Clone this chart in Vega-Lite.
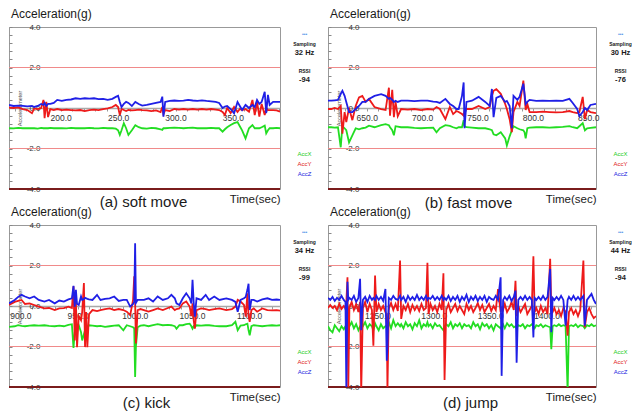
{
"$schema":"https://vega.github.io/schema/vega-lite/v6.json",
"background":"white",
"padding":{"left":7,"top":7,"right":0,"bottom":0},
"bounds":"flush",
"columns":2,
"spacing":{"row":36,"column":48},
"datasets":{
"a":[
{"t":155,"X":-1.0,"Y":0.02,"Z":0.15},{"t":159,"X":-1.01,"Y":0.0,"Z":0.1},{"t":163,"X":-0.98,"Y":0.03,"Z":0.12},{"t":167,"X":-1.0,"Y":-0.05,"Z":0.1},{"t":171,"X":-1.0,"Y":-0.1,"Z":0.08},{"t":175,"X":-0.99,"Y":-0.26,"Z":0.1},{"t":177,"X":-1.0,"Y":-0.02,"Z":0.05},{"t":180,"X":-1.02,"Y":-0.05,"Z":0.1},{"t":183,"X":-0.98,"Y":0.0,"Z":0.2},{"t":185,"X":-1.0,"Y":0.4,"Z":0.15},{"t":186,"X":-1.0,"Y":-0.5,"Z":0.25},{"t":187.5,"X":-1.0,"Y":0.3,"Z":0.1},{"t":189,"X":-1.0,"Y":-0.45,"Z":0.2},{"t":191,"X":-0.98,"Y":-0.05,"Z":0.2},{"t":194,"X":-1.0,"Y":-0.1,"Z":0.25},{"t":197,"X":-0.99,"Y":-0.05,"Z":0.4},{"t":201,"X":-1.0,"Y":-0.1,"Z":0.35},{"t":205,"X":-1.01,"Y":-0.08,"Z":0.4},{"t":209,"X":-0.98,"Y":-0.1,"Z":0.42},{"t":213,"X":-1.0,"Y":-0.12,"Z":0.48},{"t":217,"X":-0.99,"Y":-0.1,"Z":0.45},{"t":221,"X":-1.0,"Y":-0.15,"Z":0.48},{"t":225,"X":-0.98,"Y":-0.1,"Z":0.46},{"t":229,"X":-1.0,"Y":-0.08,"Z":0.48},{"t":233,"X":-1.01,"Y":-0.1,"Z":0.44},{"t":237,"X":-0.98,"Y":-0.05,"Z":0.45},{"t":241,"X":-1.0,"Y":-0.02,"Z":0.4},{"t":245,"X":-1.0,"Y":0.05,"Z":0.45},{"t":248,"X":-1.02,"Y":0.15,"Z":0.55},{"t":250,"X":-1.1,"Y":0.05,"Z":0.6},{"t":251.5,"X":-1.33,"Y":-0.35,"Z":0.3},{"t":253,"X":-1.1,"Y":-0.05,"Z":0.05},{"t":255,"X":-0.75,"Y":-0.1,"Z":0.2},{"t":257,"X":-1.0,"Y":-0.15,"Z":0.3},{"t":259,"X":-1.33,"Y":-0.1,"Z":0.25},{"t":262,"X":-1.1,"Y":-0.12,"Z":0.1},{"t":265,"X":-0.85,"Y":-0.1,"Z":0.3},{"t":268,"X":-0.95,"Y":-0.08,"Z":0.2},{"t":271,"X":-1.0,"Y":-0.1,"Z":0.12},{"t":275,"X":-1.02,"Y":-0.12,"Z":0.15},{"t":279,"X":-0.98,"Y":-0.15,"Z":0.2},{"t":283,"X":-1.0,"Y":-0.12,"Z":0.25},{"t":287,"X":-1.05,"Y":-0.2,"Z":0.3},{"t":288.5,"X":-1.08,"Y":0.05,"Z":0.56},{"t":289.5,"X":-1.0,"Y":-0.3,"Z":-0.43},{"t":291,"X":-1.0,"Y":-0.1,"Z":0.3},{"t":295,"X":-0.98,"Y":-0.15,"Z":0.35},{"t":299,"X":-0.97,"Y":-0.05,"Z":0.37},{"t":303,"X":-0.98,"Y":-0.08,"Z":0.35},{"t":307,"X":-1.0,"Y":-0.05,"Z":0.36},{"t":311,"X":-0.98,"Y":-0.08,"Z":0.4},{"t":315,"X":-0.97,"Y":-0.05,"Z":0.37},{"t":319,"X":-1.0,"Y":-0.08,"Z":0.35},{"t":323,"X":-0.99,"Y":-0.05,"Z":0.38},{"t":327,"X":-1.0,"Y":-0.08,"Z":0.35},{"t":331,"X":-0.98,"Y":-0.05,"Z":0.33},{"t":335,"X":-1.0,"Y":-0.08,"Z":0.3},{"t":338,"X":-1.0,"Y":-0.1,"Z":0.25},{"t":341,"X":-1.17,"Y":-0.2,"Z":0.0},{"t":343,"X":-1.05,"Y":-0.35,"Z":0.07},{"t":345,"X":-0.95,"Y":0.0,"Z":0.1},{"t":348,"X":-0.84,"Y":-0.25,"Z":-0.05},{"t":351,"X":-0.75,"Y":0.05,"Z":-0.26},{"t":354,"X":-0.7,"Y":-0.2,"Z":0.3},{"t":356,"X":-0.9,"Y":-0.05,"Z":0.1},{"t":358,"X":-1.1,"Y":-0.1,"Z":-0.1},{"t":361,"X":-1.5,"Y":-0.05,"Z":0.15},{"t":364,"X":-1.0,"Y":-0.18,"Z":0.0},{"t":367,"X":-0.84,"Y":0.4,"Z":0.15},{"t":369,"X":-1.0,"Y":-0.35,"Z":0.05},{"t":371,"X":-1.0,"Y":0.31,"Z":0.4},{"t":373,"X":-1.0,"Y":-0.43,"Z":0.2},{"t":375,"X":-0.95,"Y":0.2,"Z":0.3},{"t":377.7,"X":-0.87,"Y":-0.35,"Z":0.8},{"t":379,"X":-1.25,"Y":0.0,"Z":-0.26},{"t":380.5,"X":-1.1,"Y":-0.1,"Z":0.65},{"t":382,"X":-1.0,"Y":-0.1,"Z":0.15},{"t":385,"X":-1.0,"Y":-0.1,"Z":0.3},{"t":388,"X":-0.98,"Y":-0.12,"Z":0.3},{"t":391,"X":-1.0,"Y":-0.18,"Z":0.3}
],
"b":[
{"t":615,"X":-0.95,"Y":-0.05,"Z":0.36},{"t":618,"X":-0.95,"Y":-0.05,"Z":0.36},{"t":621,"X":-0.97,"Y":0.0,"Z":0.38},{"t":624,"X":-0.95,"Y":-0.05,"Z":0.4},{"t":626.5,"X":-1.94,"Y":0.1,"Z":0.7},{"t":628,"X":-0.9,"Y":-1.27,"Z":0.85},{"t":630,"X":-1.0,"Y":-0.2,"Z":0.6},{"t":631.5,"X":-1.1,"Y":-0.7,"Z":0.3},{"t":634,"X":-1.7,"Y":0.0,"Z":-0.2},{"t":637,"X":-1.35,"Y":-0.6,"Z":-0.2},{"t":640,"X":-1.0,"Y":0.1,"Z":-0.05},{"t":643,"X":-1.05,"Y":0.52,"Z":0.1},{"t":646,"X":-1.0,"Y":0.6,"Z":0.3},{"t":649,"X":-0.97,"Y":0.3,"Z":0.3},{"t":652,"X":-0.87,"Y":0.45,"Z":0.44},{"t":657,"X":-0.95,"Y":0.05,"Z":0.6},{"t":663,"X":-0.85,"Y":-0.05,"Z":0.68},{"t":667,"X":-0.8,"Y":-0.1,"Z":0.6},{"t":670,"X":-0.85,"Y":1.0,"Z":0.45},{"t":671,"X":-0.95,"Y":-0.38,"Z":0.5},{"t":673,"X":-1.1,"Y":0.9,"Z":0.4},{"t":674.5,"X":-1.35,"Y":-0.45,"Z":0.3},{"t":676,"X":-0.9,"Y":0.3,"Z":0.36},{"t":678,"X":-0.92,"Y":-0.4,"Z":0.3},{"t":681,"X":-0.95,"Y":-0.05,"Z":0.36},{"t":687,"X":-0.95,"Y":-0.08,"Z":0.36},{"t":693,"X":-0.98,"Y":-0.05,"Z":0.34},{"t":699,"X":-1.0,"Y":-0.1,"Z":0.36},{"t":705,"X":-0.98,"Y":-0.05,"Z":0.36},{"t":710,"X":-0.97,"Y":-0.08,"Z":0.32},{"t":713,"X":-1.2,"Y":0.05,"Z":0.3},{"t":716,"X":-1.0,"Y":-0.05,"Z":0.25},{"t":721,"X":-0.85,"Y":-0.55,"Z":0.45},{"t":725,"X":-0.88,"Y":0.05,"Z":0.2},{"t":728,"X":-0.95,"Y":-0.3,"Z":0.1},{"t":731,"X":-1.0,"Y":-0.15,"Z":-0.05},{"t":733,"X":-0.95,"Y":-0.2,"Z":-0.05},{"t":736,"X":-0.95,"Y":-0.3,"Z":0.6},{"t":737.5,"X":-0.6,"Y":-0.38,"Z":1.26},{"t":738.3,"X":-0.9,"Y":-0.1,"Z":-1.0},{"t":740,"X":-0.95,"Y":-0.05,"Z":0.3},{"t":745,"X":-0.97,"Y":-0.05,"Z":0.36},{"t":751,"X":-1.0,"Y":0.1,"Z":0.55},{"t":757,"X":-1.0,"Y":-0.05,"Z":0.3},{"t":761,"X":-1.05,"Y":0.05,"Z":0.1},{"t":763,"X":-1.1,"Y":0.6,"Z":0.94},{"t":764.5,"X":-1.3,"Y":0.85,"Z":-0.45},{"t":767,"X":-1.35,"Y":0.93,"Z":0.5},{"t":771,"X":-1.2,"Y":0.7,"Z":0.6},{"t":775,"X":-1.5,"Y":0.2,"Z":0.3},{"t":776.5,"X":-1.85,"Y":-0.05,"Z":0.35},{"t":779,"X":-1.4,"Y":-0.55,"Z":0.1},{"t":781,"X":-1.1,"Y":-1.2,"Z":-1.0},{"t":782.5,"X":-0.9,"Y":-0.2,"Z":0.6},{"t":786,"X":-1.0,"Y":0.3,"Z":0.4},{"t":788,"X":-1.05,"Y":0.1,"Z":0.55},{"t":791.4,"X":-1.1,"Y":1.35,"Z":1.2},{"t":792.5,"X":-1.2,"Y":0.6,"Z":0.7},{"t":793.5,"X":-1.5,"Y":-0.1,"Z":0.2},{"t":795,"X":-1.0,"Y":0.2,"Z":0.3},{"t":797,"X":-0.97,"Y":-0.2,"Z":0.4},{"t":803,"X":-0.95,"Y":-0.2,"Z":0.35},{"t":809,"X":-0.95,"Y":-0.18,"Z":0.36},{"t":815,"X":-0.97,"Y":-0.2,"Z":0.35},{"t":821,"X":-0.95,"Y":-0.22,"Z":0.36},{"t":827,"X":-0.93,"Y":-0.2,"Z":0.35},{"t":833,"X":-0.9,"Y":-0.15,"Z":0.45},{"t":836,"X":-0.95,"Y":-0.2,"Z":0.25},{"t":840,"X":-1.0,"Y":-0.25,"Z":-0.05},{"t":842,"X":-0.9,"Y":-0.2,"Z":-0.4},{"t":845,"X":-0.75,"Y":0.55,"Z":-0.2},{"t":847,"X":-1.1,"Y":-0.55,"Z":0.0},{"t":849,"X":-1.0,"Y":-0.1,"Z":-0.1},{"t":852,"X":-0.98,"Y":-0.2,"Z":0.15},{"t":857,"X":-0.95,"Y":-0.25,"Z":0.2}
],
"c":[
{"t":890,"X":-1.03,"Y":0.05,"Z":0.13},{"t":895,"X":-1.0,"Y":0.2,"Z":0.3},{"t":898,"X":-0.95,"Y":0.25,"Z":0.45},{"t":901,"X":-0.98,"Y":0.3,"Z":0.55},{"t":904,"X":-1.0,"Y":0.1,"Z":0.47},{"t":908,"X":-0.97,"Y":0.13,"Z":0.38},{"t":912,"X":-0.95,"Y":0.05,"Z":0.47},{"t":916,"X":-0.97,"Y":-0.03,"Z":0.3},{"t":921,"X":-0.95,"Y":-0.12,"Z":0.22},{"t":925,"X":-0.98,"Y":-0.1,"Z":0.3},{"t":930,"X":-1.0,"Y":-0.2,"Z":0.13},{"t":934,"X":-0.97,"Y":-0.12,"Z":0.27},{"t":938,"X":-1.0,"Y":-0.1,"Z":0.22},{"t":942,"X":-0.93,"Y":-0.03,"Z":0.33},{"t":945,"X":-0.9,"Y":-0.1,"Z":0.38},{"t":946.4,"X":-2.07,"Y":0.97,"Z":1.0},{"t":947.5,"X":-1.3,"Y":-1.7,"Z":-0.03},{"t":948.5,"X":-1.0,"Y":0.3,"Z":0.8},{"t":949.5,"X":-1.1,"Y":-2.03,"Z":0.1},{"t":951,"X":-0.95,"Y":-0.5,"Z":0.05},{"t":953,"X":-1.3,"Y":-0.7,"Z":0.47},{"t":954,"X":-1.7,"Y":-0.3,"Z":0.3},{"t":955.5,"X":-1.4,"Y":1.13,"Z":0.35},{"t":956.5,"X":-1.2,"Y":-2.03,"Z":0.4},{"t":957.5,"X":-1.1,"Y":-0.3,"Z":0.38},{"t":958.5,"X":-1.05,"Y":-2.03,"Z":0.35},{"t":960,"X":-0.95,"Y":-0.4,"Z":0.33},{"t":963,"X":-0.97,"Y":-0.2,"Z":0.3},{"t":967,"X":-1.0,"Y":-0.25,"Z":0.55},{"t":970,"X":-0.98,"Y":-0.2,"Z":0.3},{"t":974,"X":-1.03,"Y":-0.15,"Z":0.35},{"t":978,"X":-1.0,"Y":-0.12,"Z":0.38},{"t":982,"X":-0.97,"Y":-0.2,"Z":0.47},{"t":986,"X":-0.95,"Y":-0.15,"Z":0.25},{"t":990,"X":-1.2,"Y":-0.2,"Z":0.3},{"t":993,"X":-0.95,"Y":-0.28,"Z":0.3},{"t":996,"X":-1.0,"Y":-0.45,"Z":-0.03},{"t":998.5,"X":-1.05,"Y":0.3,"Z":0.1},{"t":999.5,"X":-1.1,"Y":1.47,"Z":0.2},{"t":1000.3,"X":-3.5,"Y":0.2,"Z":3.1},{"t":1001,"X":-2.0,"Y":-1.85,"Z":0.15},{"t":1002.5,"X":-1.05,"Y":-0.2,"Z":0.3},{"t":1005,"X":-0.97,"Y":-0.15,"Z":0.3},{"t":1008,"X":-0.95,"Y":-0.2,"Z":0.3},{"t":1012,"X":-1.0,"Y":-0.28,"Z":0.38},{"t":1016,"X":-0.95,"Y":-0.2,"Z":0.22},{"t":1020,"X":-0.9,"Y":-0.12,"Z":0.47},{"t":1024.5,"X":-0.95,"Y":-0.2,"Z":0.3},{"t":1029,"X":-0.93,"Y":-0.1,"Z":0.38},{"t":1032,"X":-0.95,"Y":-0.03,"Z":0.55},{"t":1035,"X":-1.0,"Y":-0.2,"Z":0.38},{"t":1036.5,"X":-1.12,"Y":-0.15,"Z":0.13},{"t":1039,"X":-0.95,"Y":-0.12,"Z":0.05},{"t":1042,"X":-0.95,"Y":0.13,"Z":0.38},{"t":1045,"X":-0.9,"Y":0.22,"Z":0.63},{"t":1048,"X":-0.87,"Y":-0.03,"Z":0.38},{"t":1049.5,"X":-1.0,"Y":-0.5,"Z":0.13},{"t":1050.5,"X":-1.12,"Y":0.13,"Z":1.3},{"t":1051.5,"X":-1.0,"Y":-0.7,"Z":0.2},{"t":1052.5,"X":-1.05,"Y":-1.12,"Z":-0.53},{"t":1054,"X":-0.95,"Y":-0.2,"Z":0.38},{"t":1058,"X":-0.97,"Y":-0.12,"Z":0.3},{"t":1062,"X":-0.95,"Y":-0.15,"Z":0.55},{"t":1065,"X":-0.95,"Y":-0.2,"Z":0.3},{"t":1069.5,"X":-0.98,"Y":-0.15,"Z":0.47},{"t":1074,"X":-1.0,"Y":-0.12,"Z":0.3},{"t":1080,"X":-1.0,"Y":-0.2,"Z":0.38},{"t":1085,"X":-0.95,"Y":-0.15,"Z":0.3},{"t":1088,"X":-0.78,"Y":-0.03,"Z":0.2},{"t":1090,"X":-1.2,"Y":0.3,"Z":-0.28},{"t":1092.5,"X":-0.97,"Y":0.22,"Z":0.3},{"t":1095.5,"X":-0.95,"Y":0.05,"Z":0.38},{"t":1097,"X":-0.9,"Y":-0.53,"Z":0.45},{"t":1098.5,"X":-0.87,"Y":0.63,"Z":0.8},{"t":1099.5,"X":-1.2,"Y":-0.5,"Z":1.1},{"t":1100.5,"X":-1.45,"Y":-0.78,"Z":-0.2},{"t":1102,"X":-1.0,"Y":-0.2,"Z":0.3},{"t":1104,"X":-0.95,"Y":-0.12,"Z":0.3},{"t":1107,"X":-0.97,"Y":-0.28,"Z":0.22},{"t":1111.5,"X":-1.0,"Y":-0.12,"Z":0.33},{"t":1116,"X":-0.97,"Y":-0.2,"Z":0.38},{"t":1120,"X":-0.95,"Y":-0.22,"Z":0.3},{"t":1124,"X":-0.97,"Y":-0.2,"Z":0.32},{"t":1127,"X":-0.95,"Y":-0.23,"Z":0.3}
],
"d":[
{"t":1206,"X":-1.0,"Y":-0.1,"Z":0.4},{"t":1208,"X":-1.2,"Y":0.05,"Z":0.3},{"t":1210,"X":-1.3,"Y":-0.1,"Z":0.45},{"t":1212,"X":-0.95,"Y":0.0,"Z":0.25},{"t":1214,"X":-1.1,"Y":-0.2,"Z":0.4},{"t":1216,"X":-1.25,"Y":0.1,"Z":0.3},{"t":1218,"X":-1.0,"Y":-0.15,"Z":0.5},{"t":1220,"X":-1.15,"Y":0.0,"Z":0.3},{"t":1221.5,"X":-1.0,"Y":-0.1,"Z":0.2},{"t":1222.3,"X":-1.1,"Y":0.2,"Z":-4.2},{"t":1223.3,"X":-0.9,"Y":1.42,"Z":1.2},{"t":1224,"X":-1.0,"Y":-4.2,"Z":0.3},{"t":1225,"X":-1.0,"Y":-0.1,"Z":0.4},{"t":1227,"X":-0.8,"Y":0.2,"Z":0.3},{"t":1229,"X":-1.1,"Y":-0.2,"Z":0.5},{"t":1231,"X":-0.9,"Y":0.1,"Z":0.2},{"t":1233,"X":-1.2,"Y":-0.3,"Z":0.4},{"t":1234.5,"X":-1.0,"Y":0.2,"Z":1.34},{"t":1235.5,"X":-0.95,"Y":-4.2,"Z":-1.2},{"t":1237,"X":-1.0,"Y":-0.1,"Z":0.3},{"t":1239,"X":-0.8,"Y":0.2,"Z":0.45},{"t":1241,"X":-1.1,"Y":-0.3,"Z":0.2},{"t":1243,"X":-0.9,"Y":0.1,"Z":0.5},{"t":1245,"X":-1.0,"Y":-0.2,"Z":0.3},{"t":1246.3,"X":-1.2,"Y":-1.96,"Z":0.4},{"t":1247.8,"X":-0.85,"Y":1.5,"Z":0.3},{"t":1249,"X":-1.0,"Y":-0.3,"Z":0.5},{"t":1251,"X":-1.2,"Y":0.1,"Z":0.3},{"t":1253,"X":-0.9,"Y":-0.2,"Z":0.45},{"t":1255,"X":-1.1,"Y":0.0,"Z":0.25},{"t":1257,"X":-1.0,"Y":-0.3,"Z":0.84},{"t":1258.2,"X":-0.95,"Y":-0.5,"Z":-2.7},{"t":1258.8,"X":-1.0,"Y":-4.2,"Z":-2.0},{"t":1260,"X":-0.8,"Y":-0.1,"Z":0.4},{"t":1262,"X":-1.1,"Y":0.15,"Z":0.3},{"t":1264,"X":-0.7,"Y":-0.2,"Z":0.5},{"t":1266,"X":-1.0,"Y":0.1,"Z":0.35},{"t":1268,"X":-0.85,"Y":-0.25,"Z":0.3},{"t":1270,"X":-1.0,"Y":2.24,"Z":0.5},{"t":1271,"X":-0.9,"Y":-0.64,"Z":0.3},{"t":1273,"X":-1.1,"Y":0.0,"Z":0.45},{"t":1275,"X":-0.8,"Y":-0.2,"Z":0.2},{"t":1277,"X":-1.0,"Y":0.1,"Z":0.5},{"t":1279,"X":-0.9,"Y":-0.3,"Z":0.3},{"t":1281,"X":-1.15,"Y":0.05,"Z":0.45},{"t":1283,"X":-0.85,"Y":-0.2,"Z":0.3},{"t":1285,"X":-1.0,"Y":0.0,"Z":0.55},{"t":1287,"X":-0.7,"Y":-0.25,"Z":0.3},{"t":1289,"X":-1.1,"Y":0.1,"Z":0.45},{"t":1291,"X":-0.9,"Y":-0.2,"Z":0.3},{"t":1293,"X":-1.0,"Y":-0.1,"Z":0.5},{"t":1294.3,"X":-0.8,"Y":2.13,"Z":0.3},{"t":1295.3,"X":-1.0,"Y":-0.4,"Z":0.4},{"t":1297,"X":-0.9,"Y":0.1,"Z":0.35},{"t":1299,"X":-1.1,"Y":-0.2,"Z":0.5},{"t":1301,"X":-0.85,"Y":0.0,"Z":0.3},{"t":1303,"X":-1.0,"Y":-0.3,"Z":0.45},{"t":1305,"X":-0.95,"Y":0.1,"Z":0.3},{"t":1307,"X":-1.1,"Y":-0.2,"Z":0.5},{"t":1308.5,"X":-1.2,"Y":1.62,"Z":0.3},{"t":1309.5,"X":-1.0,"Y":-3.65,"Z":0.4},{"t":1311,"X":-0.9,"Y":-0.2,"Z":0.3},{"t":1313,"X":-1.0,"Y":0.1,"Z":0.5},{"t":1315,"X":-0.8,"Y":-0.3,"Z":0.25},{"t":1317,"X":-1.1,"Y":-0.1,"Z":0.45},{"t":1319,"X":-0.9,"Y":0.1,"Z":0.3},{"t":1321,"X":-1.0,"Y":-0.25,"Z":0.5},{"t":1323,"X":-0.85,"Y":0.0,"Z":0.2},{"t":1325,"X":-1.1,"Y":-0.2,"Z":0.45},{"t":1327,"X":-0.9,"Y":-0.4,"Z":0.3},{"t":1329,"X":-1.0,"Y":0.1,"Z":0.55},{"t":1331,"X":-0.95,"Y":-0.2,"Z":0.2},{"t":1333,"X":-1.1,"Y":0.0,"Z":0.45},{"t":1335,"X":-0.8,"Y":-0.3,"Z":0.3},{"t":1337,"X":-1.0,"Y":-0.1,"Z":0.5},{"t":1339,"X":-0.9,"Y":0.15,"Z":0.25},{"t":1341,"X":-1.15,"Y":-0.2,"Z":0.45},{"t":1343,"X":-0.85,"Y":0.05,"Z":0.3},{"t":1345,"X":-1.0,"Y":-0.3,"Z":0.5},{"t":1347,"X":-0.9,"Y":-0.1,"Z":0.2},{"t":1349,"X":-1.1,"Y":0.1,"Z":0.45},{"t":1351,"X":-0.95,"Y":-0.25,"Z":0.35},{"t":1353,"X":-1.2,"Y":0.0,"Z":0.3},{"t":1355,"X":-0.9,"Y":-0.2,"Z":0.5},{"t":1357,"X":-1.0,"Y":0.84,"Z":0.3},{"t":1359.3,"X":-1.1,"Y":-0.3,"Z":1.42},{"t":1360.2,"X":-1.0,"Y":-0.1,"Z":-3.45},{"t":1361.5,"X":-0.9,"Y":-0.2,"Z":0.3},{"t":1363,"X":-1.1,"Y":0.1,"Z":0.45},{"t":1365,"X":-0.85,"Y":-0.3,"Z":0.3},{"t":1367,"X":-1.0,"Y":-0.1,"Z":0.5},{"t":1369,"X":-0.9,"Y":0.2,"Z":0.25},{"t":1371,"X":-1.05,"Y":-0.2,"Z":0.45},{"t":1372.5,"X":-1.0,"Y":1.25,"Z":0.76},{"t":1373.5,"X":-1.1,"Y":-0.5,"Z":-2.8},{"t":1375,"X":-0.95,"Y":0.0,"Z":0.3},{"t":1377,"X":-1.0,"Y":-0.3,"Z":0.45},{"t":1379,"X":-0.9,"Y":-0.1,"Z":0.3},{"t":1381,"X":-1.1,"Y":0.1,"Z":0.5},{"t":1383,"X":-0.95,"Y":-0.4,"Z":0.3},{"t":1385,"X":-1.0,"Y":-0.2,"Z":0.45},{"t":1387,"X":-0.9,"Y":0.0,"Z":0.3},{"t":1388.4,"X":-1.0,"Y":2.46,"Z":-1.55},{"t":1389.5,"X":-1.1,"Y":-0.3,"Z":0.4},{"t":1391,"X":-0.95,"Y":-0.1,"Z":0.3},{"t":1393,"X":-1.0,"Y":-0.4,"Z":0.45},{"t":1395,"X":-0.9,"Y":0.0,"Z":0.3},{"t":1397,"X":-1.05,"Y":-0.3,"Z":0.5},{"t":1399,"X":-0.95,"Y":-0.1,"Z":0.3},{"t":1401,"X":-1.0,"Y":-0.4,"Z":0.45},{"t":1403.3,"X":-1.05,"Y":2.33,"Z":1.83},{"t":1404.3,"X":-2.13,"Y":-0.2,"Z":-1.3},{"t":1405.5,"X":-1.0,"Y":-0.3,"Z":0.4},{"t":1407,"X":-0.95,"Y":-0.1,"Z":0.3},{"t":1409,"X":-1.0,"Y":-0.4,"Z":0.45},{"t":1411,"X":-0.9,"Y":-0.2,"Z":0.3},{"t":1413,"X":-1.0,"Y":-0.5,"Z":0.5},{"t":1415,"X":-0.95,"Y":-0.1,"Z":0.3},{"t":1417,"X":-1.0,"Y":-0.3,"Z":-0.97},{"t":1418.8,"X":-4.2,"Y":-1.47,"Z":0.3},{"t":1420,"X":-1.0,"Y":-0.3,"Z":0.45},{"t":1422,"X":-0.95,"Y":-0.1,"Z":0.3},{"t":1424,"X":-1.0,"Y":-0.4,"Z":0.5},{"t":1426,"X":-0.9,"Y":-0.2,"Z":0.3},{"t":1428,"X":-1.05,"Y":-0.5,"Z":0.45},{"t":1430,"X":-0.95,"Y":-0.2,"Z":0.3},{"t":1432.8,"X":-1.0,"Y":2.24,"Z":0.5},{"t":1434,"X":-1.1,"Y":-1.05,"Z":-0.97},{"t":1436,"X":-0.95,"Y":-0.3,"Z":0.3},{"t":1438,"X":-1.0,"Y":-0.1,"Z":0.45},{"t":1440,"X":-0.9,"Y":-0.4,"Z":0.6},{"t":1442,"X":-1.0,"Y":-0.6,"Z":0.3},{"t":1444,"X":-0.95,"Y":-0.5,"Z":0.1}
]
},
"concat":[
{"width":271,"height":162,
"title":{"text":"Acceleration(g)","anchor":"start","frame":"group","dx":2,"offset":2},
"layer":[
{"data":{"values":[{"g":2},{"g":-2},{"g":-4}]},"mark":{"type":"rule"},
"encoding":{
"y":{"field":"g","type":"quantitative","scale":{"domain":[-4,4],"nice":false,"zero":false},
"axis":{"orient":"right","values":[3.7,3.17,2.75,1.85,1.4,-2.25,-2.75,-3.25],
"labelExpr":"datum.value === 3.7 ? '•••' : datum.value === 3.17 ? 'Sampling' : datum.value === 2.75 ? '32 Hz' : datum.value === 1.85 ? 'RSSI' : datum.value === 1.4 ? '-94' : datum.value === -2.25 ? 'AccX' : datum.value === -2.75 ? 'AccY' : 'AccZ'",
"ticks":false,"tickSize":0,"domain":false,"grid":false,"labelAlign":"center","labelBaseline":"middle","labelPadding":24,"labelOverlap":false,"labelBound":false,
"labelFontSize":{"condition":[{"test":"datum.value === 2.75 || datum.value === 1.4","value":7.5},{"test":"datum.value < 0","value":6}],"value":5},
"labelColor":{"condition":[{"test":"datum.value === 3.7","value":"#4f8fe8"},{"test":"datum.value === -2.25","value":"#22cc22"},{"test":"datum.value === -2.75","value":"#e02020"},{"test":"datum.value === -3.25","value":"#2424e0"}],"value":"#1a1a1a"},
"labelFontWeight":{"condition":{"test":"datum.value > 0 && datum.value < 3.5","value":"bold"},"value":"normal"},
"title":"(a) soft move","titleAngle":0,"titleX":-137,"titleY":174,"titleAlign":"center","titleBaseline":"middle","titleFontSize":15,"titleFontWeight":"normal","titleColor":"#1a1a1a"}},
"color":{"condition":{"test":"datum.g === -4","value":"#7a1c1c"},"value":"#f08a8a"},
"strokeWidth":{"condition":{"test":"datum.g === -4","value":2.2},"value":1.2}}},
{"data":{"name":"a"},"transform":[{"fold":["X","Y","Z"],"as":["axis","g"]}],
"mark":{"type":"line","strokeWidth":1.8,"clip":true},
"encoding":{
"x":{"field":"t","type":"quantitative","scale":{"domain":[155,391],"nice":false,"zero":false},
"axis":{"orient":"bottom","offset":-81,"values":[160,170,180,190,200,210,220,230,240,250,260,270,280,290,300,310,320,330,340,350,360,370,380,390],
"labelExpr":"datum.value % 50 === 0 ? format(datum.value, '.1f') : ''","tickSize":3,"tickColor":"#999999","domainColor":"#a8a8a8","domainWidth":1.6,"labelFontSize":8.5,"labelColor":"#333333","labelPadding":2,"labelOverlap":false,"labelFlush":false,"labelBound":false,"grid":false,
"title":"Time(sec)","titleX":271,"titleY":91,"titleAlign":"right","titleBaseline":"middle","titleFontSize":11.5,"titleFontWeight":"normal","titleColor":"#1a1a1a"}},
"y":{"field":"g","type":"quantitative",
"axis":{"orient":"left","values":[-4,-3.6,-3.2,-2.8,-2.4,-2,-1.6,-1.2,-0.8,-0.4,0,0.4,0.8,1.2,1.6,2,2.4,2.8,3.2,3.6,4],
"labelExpr":"abs(datum.value) % 2 === 0 ? (datum.value < 0 ? '-' : '') + format(abs(datum.value), '.1f') : ''",
"labelAlign":"right","labelBaseline":"middle","labelPadding":-28,"tickSize":-3,"tickColor":"#888888","domain":false,"grid":false,"labelFontSize":8,"labelColor":"#333333","labelOverlap":false,"labelBound":false,
"title":"Accelerometer","titleAngle":-90,"titleX":10,"titleY":81,"titleAlign":"center","titleBaseline":"middle","titleFontSize":5.5,"titleFontWeight":"normal","titleColor":"#555555"}},
"color":{"field":"axis","type":"nominal","scale":{"domain":["X","Y","Z"],"range":["#22dd22","#ee1a1a","#1f1fe6"]},"legend":null}}}
],
"resolve":{"axis":{"y":"independent"}}},
{"width":268,"height":162,
"title":{"text":"Acceleration(g)","anchor":"start","frame":"group","dx":2,"offset":2},
"layer":[
{"data":{"values":[{"g":2},{"g":-2},{"g":-4}]},"mark":{"type":"rule"},
"encoding":{
"y":{"field":"g","type":"quantitative","scale":{"domain":[-4,4],"nice":false,"zero":false},
"axis":{"orient":"right","values":[3.7,3.17,2.75,1.85,1.4,-2.25,-2.75,-3.25],
"labelExpr":"datum.value === 3.7 ? '•••' : datum.value === 3.17 ? 'Sampling' : datum.value === 2.75 ? '30 Hz' : datum.value === 1.85 ? 'RSSI' : datum.value === 1.4 ? '-76' : datum.value === -2.25 ? 'AccX' : datum.value === -2.75 ? 'AccY' : 'AccZ'",
"ticks":false,"tickSize":0,"domain":false,"grid":false,"labelAlign":"center","labelBaseline":"middle","labelPadding":24,"labelOverlap":false,"labelBound":false,
"labelFontSize":{"condition":[{"test":"datum.value === 2.75 || datum.value === 1.4","value":7.5},{"test":"datum.value < 0","value":6}],"value":5},
"labelColor":{"condition":[{"test":"datum.value === 3.7","value":"#4f8fe8"},{"test":"datum.value === -2.25","value":"#22cc22"},{"test":"datum.value === -2.75","value":"#e02020"},{"test":"datum.value === -3.25","value":"#2424e0"}],"value":"#1a1a1a"},
"labelFontWeight":{"condition":{"test":"datum.value > 0 && datum.value < 3.5","value":"bold"},"value":"normal"},
"title":"(b) fast move","titleAngle":0,"titleX":-128,"titleY":175,"titleAlign":"center","titleBaseline":"middle","titleFontSize":15,"titleFontWeight":"normal","titleColor":"#1a1a1a"}},
"color":{"condition":{"test":"datum.g === -4","value":"#7a1c1c"},"value":"#f08a8a"},
"strokeWidth":{"condition":{"test":"datum.g === -4","value":2.2},"value":1.2}}},
{"data":{"name":"b"},"transform":[{"fold":["X","Y","Z"],"as":["axis","g"]}],
"mark":{"type":"line","strokeWidth":1.8,"clip":true},
"encoding":{
"x":{"field":"t","type":"quantitative","scale":{"domain":[615,857],"nice":false,"zero":false},
"axis":{"orient":"bottom","offset":-81,"values":[620,630,640,650,660,670,680,690,700,710,720,730,740,750,760,770,780,790,800,810,820,830,840,850],
"labelExpr":"datum.value % 50 === 0 ? format(datum.value, '.1f') : ''","tickSize":3,"tickColor":"#999999","domainColor":"#a8a8a8","domainWidth":1.6,"labelFontSize":8.5,"labelColor":"#333333","labelPadding":2,"labelOverlap":false,"labelFlush":false,"labelBound":false,"grid":false,
"title":"Time(sec)","titleX":268,"titleY":91,"titleAlign":"right","titleBaseline":"middle","titleFontSize":11.5,"titleFontWeight":"normal","titleColor":"#1a1a1a"}},
"y":{"field":"g","type":"quantitative",
"axis":{"orient":"left","values":[-4,-3.6,-3.2,-2.8,-2.4,-2,-1.6,-1.2,-0.8,-0.4,0,0.4,0.8,1.2,1.6,2,2.4,2.8,3.2,3.6,4],
"labelExpr":"abs(datum.value) % 2 === 0 ? (datum.value < 0 ? '-' : '') + format(abs(datum.value), '.1f') : ''",
"labelAlign":"right","labelBaseline":"middle","labelPadding":-28,"tickSize":-3,"tickColor":"#888888","domain":false,"grid":false,"labelFontSize":8,"labelColor":"#333333","labelOverlap":false,"labelBound":false,
"title":"Accelerometer","titleAngle":-90,"titleX":10,"titleY":81,"titleAlign":"center","titleBaseline":"middle","titleFontSize":5.5,"titleFontWeight":"normal","titleColor":"#555555"}},
"color":{"field":"axis","type":"nominal","scale":{"domain":["X","Y","Z"],"range":["#22dd22","#ee1a1a","#1f1fe6"]},"legend":null}}}
],
"resolve":{"axis":{"y":"independent"}}},
{"width":271,"height":162,
"title":{"text":"Acceleration(g)","anchor":"start","frame":"group","dx":2,"offset":2},
"layer":[
{"data":{"values":[{"g":2},{"g":-2},{"g":-4}]},"mark":{"type":"rule"},
"encoding":{
"y":{"field":"g","type":"quantitative","scale":{"domain":[-4,4],"nice":false,"zero":false},
"axis":{"orient":"right","values":[3.7,3.17,2.75,1.85,1.4,-2.25,-2.75,-3.25],
"labelExpr":"datum.value === 3.7 ? '•••' : datum.value === 3.17 ? 'Sampling' : datum.value === 2.75 ? '34 Hz' : datum.value === 1.85 ? 'RSSI' : datum.value === 1.4 ? '-99' : datum.value === -2.25 ? 'AccX' : datum.value === -2.75 ? 'AccY' : 'AccZ'",
"ticks":false,"tickSize":0,"domain":false,"grid":false,"labelAlign":"center","labelBaseline":"middle","labelPadding":24,"labelOverlap":false,"labelBound":false,
"labelFontSize":{"condition":[{"test":"datum.value === 2.75 || datum.value === 1.4","value":7.5},{"test":"datum.value < 0","value":6}],"value":5},
"labelColor":{"condition":[{"test":"datum.value === 3.7","value":"#4f8fe8"},{"test":"datum.value === -2.25","value":"#22cc22"},{"test":"datum.value === -2.75","value":"#e02020"},{"test":"datum.value === -3.25","value":"#2424e0"}],"value":"#1a1a1a"},
"labelFontWeight":{"condition":{"test":"datum.value > 0 && datum.value < 3.5","value":"bold"},"value":"normal"},
"title":"(c) kick","titleAngle":0,"titleX":-134,"titleY":177,"titleAlign":"center","titleBaseline":"middle","titleFontSize":15,"titleFontWeight":"normal","titleColor":"#1a1a1a"}},
"color":{"condition":{"test":"datum.g === -4","value":"#7a1c1c"},"value":"#f08a8a"},
"strokeWidth":{"condition":{"test":"datum.g === -4","value":2.2},"value":1.2}}},
{"data":{"name":"c"},"transform":[{"fold":["X","Y","Z"],"as":["axis","g"]}],
"mark":{"type":"line","strokeWidth":1.8,"clip":true},
"encoding":{
"x":{"field":"t","type":"quantitative","scale":{"domain":[890,1127],"nice":false,"zero":false},
"axis":{"orient":"bottom","offset":-81,"values":[890,900,910,920,930,940,950,960,970,980,990,1000,1010,1020,1030,1040,1050,1060,1070,1080,1090,1100,1110,1120],
"labelExpr":"datum.value % 50 === 0 ? format(datum.value, '.1f') : ''","tickSize":3,"tickColor":"#999999","domainColor":"#a8a8a8","domainWidth":1.6,"labelFontSize":8.5,"labelColor":"#333333","labelPadding":2,"labelOverlap":false,"labelFlush":false,"labelBound":false,"grid":false,
"title":"Time(sec)","titleX":271,"titleY":91,"titleAlign":"right","titleBaseline":"middle","titleFontSize":11.5,"titleFontWeight":"normal","titleColor":"#1a1a1a"}},
"y":{"field":"g","type":"quantitative",
"axis":{"orient":"left","values":[-4,-3.6,-3.2,-2.8,-2.4,-2,-1.6,-1.2,-0.8,-0.4,0,0.4,0.8,1.2,1.6,2,2.4,2.8,3.2,3.6,4],
"labelExpr":"abs(datum.value) % 2 === 0 ? (datum.value < 0 ? '-' : '') + format(abs(datum.value), '.1f') : ''",
"labelAlign":"right","labelBaseline":"middle","labelPadding":-28,"tickSize":-3,"tickColor":"#888888","domain":false,"grid":false,"labelFontSize":8,"labelColor":"#333333","labelOverlap":false,"labelBound":false,
"title":"Accelerometer","titleAngle":-90,"titleX":10,"titleY":81,"titleAlign":"center","titleBaseline":"middle","titleFontSize":5.5,"titleFontWeight":"normal","titleColor":"#555555"}},
"color":{"field":"axis","type":"nominal","scale":{"domain":["X","Y","Z"],"range":["#22dd22","#ee1a1a","#1f1fe6"]},"legend":null}}}
],
"resolve":{"axis":{"y":"independent"}}},
{"width":268,"height":162,
"title":{"text":"Acceleration(g)","anchor":"start","frame":"group","dx":2,"offset":2},
"layer":[
{"data":{"values":[{"g":2},{"g":-2},{"g":-4}]},"mark":{"type":"rule"},
"encoding":{
"y":{"field":"g","type":"quantitative","scale":{"domain":[-4,4],"nice":false,"zero":false},
"axis":{"orient":"right","values":[3.7,3.17,2.75,1.85,1.4,-2.25,-2.75,-3.25],
"labelExpr":"datum.value === 3.7 ? '•••' : datum.value === 3.17 ? 'Sampling' : datum.value === 2.75 ? '44 Hz' : datum.value === 1.85 ? 'RSSI' : datum.value === 1.4 ? '-94' : datum.value === -2.25 ? 'AccX' : datum.value === -2.75 ? 'AccY' : 'AccZ'",
"ticks":false,"tickSize":0,"domain":false,"grid":false,"labelAlign":"center","labelBaseline":"middle","labelPadding":24,"labelOverlap":false,"labelBound":false,
"labelFontSize":{"condition":[{"test":"datum.value === 2.75 || datum.value === 1.4","value":7.5},{"test":"datum.value < 0","value":6}],"value":5},
"labelColor":{"condition":[{"test":"datum.value === 3.7","value":"#4f8fe8"},{"test":"datum.value === -2.25","value":"#22cc22"},{"test":"datum.value === -2.75","value":"#e02020"},{"test":"datum.value === -3.25","value":"#2424e0"}],"value":"#1a1a1a"},
"labelFontWeight":{"condition":{"test":"datum.value > 0 && datum.value < 3.5","value":"bold"},"value":"normal"},
"title":"(d) jump","titleAngle":0,"titleX":-126,"titleY":177,"titleAlign":"center","titleBaseline":"middle","titleFontSize":15,"titleFontWeight":"normal","titleColor":"#1a1a1a"}},
"color":{"condition":{"test":"datum.g === -4","value":"#7a1c1c"},"value":"#f08a8a"},
"strokeWidth":{"condition":{"test":"datum.g === -4","value":2.2},"value":1.2}}},
{"data":{"name":"d"},"transform":[{"fold":["X","Y","Z"],"as":["axis","g"]}],
"mark":{"type":"line","strokeWidth":1.8,"clip":true},
"encoding":{
"x":{"field":"t","type":"quantitative","scale":{"domain":[1206,1444],"nice":false,"zero":false},
"axis":{"orient":"bottom","offset":-81,"values":[1210,1220,1230,1240,1250,1260,1270,1280,1290,1300,1310,1320,1330,1340,1350,1360,1370,1380,1390,1400,1410,1420,1430,1440],
"labelExpr":"datum.value % 50 === 0 ? format(datum.value, '.1f') : ''","tickSize":3,"tickColor":"#999999","domainColor":"#a8a8a8","domainWidth":1.6,"labelFontSize":8.5,"labelColor":"#333333","labelPadding":2,"labelOverlap":false,"labelFlush":false,"labelBound":false,"grid":false,
"title":"Time(sec)","titleX":268,"titleY":91,"titleAlign":"right","titleBaseline":"middle","titleFontSize":11.5,"titleFontWeight":"normal","titleColor":"#1a1a1a"}},
"y":{"field":"g","type":"quantitative",
"axis":{"orient":"left","values":[-4,-3.6,-3.2,-2.8,-2.4,-2,-1.6,-1.2,-0.8,-0.4,0,0.4,0.8,1.2,1.6,2,2.4,2.8,3.2,3.6,4],
"labelExpr":"abs(datum.value) % 2 === 0 ? (datum.value < 0 ? '-' : '') + format(abs(datum.value), '.1f') : ''",
"labelAlign":"right","labelBaseline":"middle","labelPadding":-28,"tickSize":-3,"tickColor":"#888888","domain":false,"grid":false,"labelFontSize":8,"labelColor":"#333333","labelOverlap":false,"labelBound":false,
"title":"Accelerometer","titleAngle":-90,"titleX":10,"titleY":81,"titleAlign":"center","titleBaseline":"middle","titleFontSize":5.5,"titleFontWeight":"normal","titleColor":"#555555"}},
"color":{"field":"axis","type":"nominal","scale":{"domain":["X","Y","Z"],"range":["#22dd22","#ee1a1a","#1f1fe6"]},"legend":null}}}
],
"resolve":{"axis":{"y":"independent"}}}
],
"config":{"font":"Liberation Sans","view":{"stroke":"#999999","strokeWidth":1},
"axis":{"labelFont":"Liberation Sans","titleFont":"Liberation Sans"},
"title":{"font":"Liberation Sans","fontSize":12,"fontWeight":"normal","color":"#1a1a1a"}}
}
